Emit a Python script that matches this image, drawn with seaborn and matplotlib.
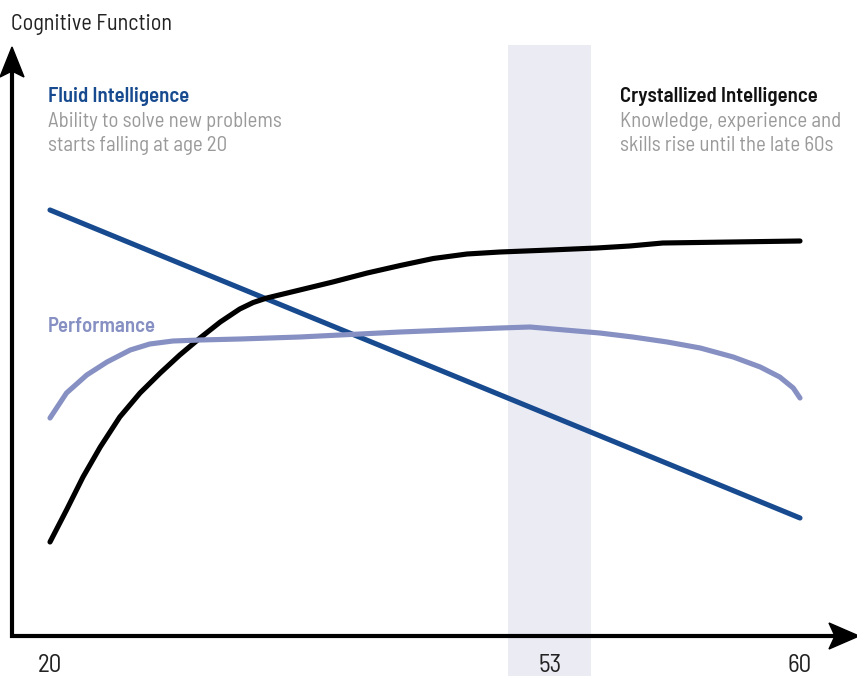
import numpy as np
import pandas as pd
import seaborn as sns
import matplotlib.pyplot as plt
from matplotlib.patches import Polygon

# Schematic time axis: position 0..100 across the chart, labelled with ages
tick_pos = [0, 66.7, 100]
tick_labels = ["20", "53", "60"]

# Fluid intelligence: straight decline
fluid_x = [0, 100]
fluid_y = [426, 118]

# Crystallized intelligence: rises then levels off
cryst_x = [0, 2.2, 4.4, 6.7, 9.3, 12, 14.7, 17.3, 20, 22.7, 25.3, 27.1, 28.9, 33.3,
           37.7, 42.3, 46.7, 51.1, 55.6, 60, 66.7, 72.9, 77.3, 81.7, 100]
cryst_y = [94, 126, 159, 189, 219, 243, 263, 281, 298, 314, 327, 333.5, 338, 346,
           354, 363, 370.5, 377.5, 382, 384, 386, 388, 390, 393, 395]

# Performance: quick rise, plateau, decline at the end
perf_x = [0, 2.2, 4.9, 7.6, 10.7, 13.3, 16.4, 20, 25.3, 33.3, 46.7, 60, 64,
          73.3, 77.7, 82.3, 86.7, 91.1, 94.7, 97.3, 99.1, 100]
perf_y = [218, 243, 261, 274, 286, 292, 295, 296, 297, 299, 304, 308, 309,
          303, 299, 294, 288, 279, 269, 259, 248, 238]

band = (61.1, 72.1)

BLUE = "#174a8f"
PERF = "#8690c2"
GRAY = "#9a9a9a"

sns.set_style("white")
plt.rcParams["font.family"] = ["Barlow Semi Condensed", "DejaVu Sans"]

W, H = 857, 676
fig = plt.figure(figsize=(W / 100, H / 100), dpi=100)

# data axes fill the whole figure; limits chosen so pos 0 -> px 50, pos 100 -> px 800
ax = fig.add_axes([0, 0, 1, 1])
ax.set_xlim(-50 / 7.5, (W - 50) / 7.5)
ax.set_ylim(636 - H, 636)
ax.axis("off")

ax.axvspan(band[0], band[1], ymin=0, ymax=1 - 45 / H, color="#ebebf4", lw=0, zorder=0)

df = pd.concat([
    pd.DataFrame({"x": fluid_x, "y": fluid_y, "s": "Fluid"}),
    pd.DataFrame({"x": cryst_x, "y": cryst_y, "s": "Crystallized"}),
    pd.DataFrame({"x": perf_x, "y": perf_y, "s": "Performance"}),
])
palette = {"Fluid": BLUE, "Crystallized": "black", "Performance": PERF}
sns.lineplot(data=df, x="x", y="y", hue="s", palette=palette, sort=False,
             estimator=None, lw=3.7, legend=False, ax=ax,
             solid_capstyle="round", solid_joinstyle="round", zorder=3)

# overlay in pixel coords for axis arrows and text
ov = fig.add_axes([0, 0, 1, 1])
ov.set_xlim(0, W)
ov.set_ylim(H, 0)
ov.axis("off")
ov.patch.set_alpha(0)

ov.plot([12, 12, 838], [60, 636, 636], color="black", lw=3, solid_joinstyle="miter")
ov.add_patch(Polygon([(12, 47), (0, 77), (12, 71), (24, 77)], closed=True, color="black"))
ov.add_patch(Polygon([(859, 636), (829, 623), (835, 636), (829, 649)], closed=True, color="black"))

for p, lab in zip(tick_pos, tick_labels):
    ov.text(50 + 7.5 * p, 672, lab, ha="center", va="baseline", fontsize=18, color="#222222")

ov.text(11, 30, "Cognitive Function", fontsize=16, color="#222222", va="baseline")

ov.text(48, 102, "Fluid Intelligence", fontsize=15, fontweight="semibold", color=BLUE, va="baseline")
ov.text(48, 127, "Ability to solve new problems", fontsize=15, color=GRAY, va="baseline")
ov.text(48, 151, "starts falling at age 20", fontsize=15, color=GRAY, va="baseline")

ov.text(620, 102, "Crystallized Intelligence", fontsize=15, fontweight="semibold", color="#111111", va="baseline")
ov.text(620, 127, "Knowledge, experience and", fontsize=15, color=GRAY, va="baseline")
ov.text(620, 151, "skills rise until the late 60s", fontsize=15, color=GRAY, va="baseline")

ov.text(48, 332, "Performance", fontsize=15, fontweight="semibold", color=PERF, va="baseline")

fig.savefig("out.png", dpi=100)
